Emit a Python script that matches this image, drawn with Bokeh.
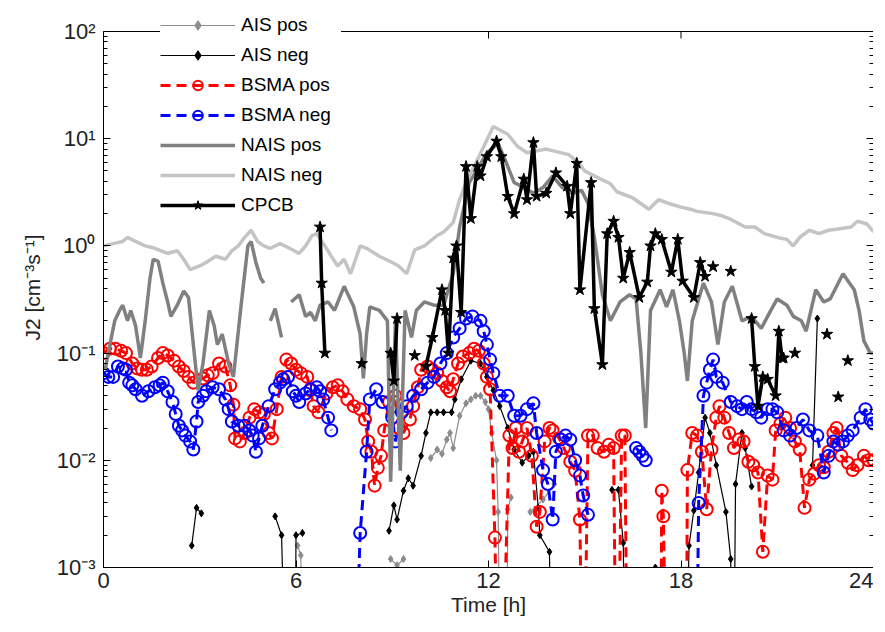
import math
import numpy as np
from bokeh.plotting import figure
from bokeh.models import (Range1d, LogAxis, FixedTicker, CustomJSTickFormatter, Span,
                          Legend, LegendItem, ColumnDataSource)
from bokeh.embed import file_html
from bokeh.resources import INLINE

nan = float("nan")
OFF = 1e-5  # values below the axis floor (drawn as lines leaving the frame)

# ---------------- data (time [h], J2 [cm^-3 s^-1]) ----------------
AIS_POS = [(6.05, 0.0016), (6.15, 0.0013), (6.25, OFF), (nan, nan),
           (8.95, 0.0012), (9.15, 0.00105), (9.35, 0.0012), (nan, nan),
           (10.2, 0.0105), (10.4, 0.0126), (10.55, 0.0115), (10.7, 0.0156), (10.8, 0.018),
           (10.9, 0.013), (11.1, 0.026), (11.3, 0.034), (11.45, 0.037), (11.6, 0.04),
           (11.75, 0.04), (11.9, 0.035), (12.0, 0.03), (12.1, 0.018), (12.25, 0.01),
           (12.3, 0.0033), (12.4, OFF), (12.55, OFF), (12.6, 0.0035), (12.7, 0.0045), (nan, nan),
           (13.3, 0.0033), (13.7, 0.0043), (14.05, 0.006)]

AIS_NEG = [(2.75, 0.0016), (2.9, 0.0036), (3.05, 0.0032), (nan, nan),
           (5.35, 0.003), (5.55, 0.002), (5.75, OFF), (5.95, OFF), (6.0, 0.002), (6.2, 0.0021), (nan, nan),
           (8.9, 0.0022), (9.05, 0.0038), (9.15, 0.0028), (9.35, 0.0052), (9.5, 0.0068),
           (9.65, 0.0058), (9.9, 0.011), (10.05, 0.018), (10.2, 0.028), (10.4, 0.028),
           (10.6, 0.028), (10.85, 0.028), (10.95, 0.037), (11.15, 0.057), (11.45, 0.085),
           (11.75, 0.08), (11.95, 0.06), (12.15, 0.045), (12.35, 0.032), (12.6, 0.02),
           (12.8, 0.0126), (13.05, 0.0095), (13.25, 0.011), (13.4, 0.012), (13.55, 0.0036),
           (13.6, 0.002), (13.9, 0.0014), (14.0, OFF), (nan, nan),
           (15.85, 0.0053), (16.05, 0.0053), (16.2, 0.0017), (16.3, OFF), (nan, nan),
           (17.2, 0.001), (nan, nan),
           (18.1, OFF), (18.25, 0.0016), (18.4, 0.0034), (18.55, 0.0077), (18.75, 0.025),
           (18.9, 0.018), (19.1, 0.009), (19.4, 0.0033), (19.55, 0.0012), (19.62, OFF),
           (19.7, 0.006), (19.9, 0.018), (20.0, 0.013), (20.2, 0.0057), (nan, nan),
           (22.1, 0.009), (22.25, 0.21)]

BSMA_POS = [(0.0, 0.1), (0.2, 0.11), (0.37, 0.11), (0.55, 0.105), (0.7, 0.1), (0.9, 0.08),
            (1.05, 0.072), (1.2, 0.07), (1.35, 0.07), (1.5, 0.075), (1.7, 0.09), (1.85, 0.1),
            (2.0, 0.095), (2.2, 0.085), (2.35, 0.075), (2.5, 0.068), (2.65, 0.06), (2.8, 0.053),
            (3.1, 0.058), (3.25, 0.062), (3.4, 0.065), (3.6, 0.08), (3.8, 0.075), (3.95, 0.05),
            (4.05, 0.033), (4.1, 0.016), (4.25, 0.015), (4.4, 0.018), (4.55, 0.025), (4.7, 0.03),
            (4.85, 0.028), (5.0, 0.027), (5.15, 0.018), (5.25, 0.016), (5.4, 0.03), (5.55, 0.06),
            (5.7, 0.087), (5.85, 0.08), (6.0, 0.07), (6.15, 0.065), (6.35, 0.06), (6.45, 0.045),
            (6.55, 0.032), (6.7, 0.028), (6.95, 0.042), (7.15, 0.048), (7.3, 0.05), (7.45, 0.044),
            (7.6, 0.037), (7.8, 0.032), (8.0, 0.03), (8.15, 0.024), (8.25, 0.015), (8.35, 0.012),
            (8.45, 0.0058), (8.55, 0.0085), (8.65, 0.011), (8.75, 0.019), (8.9, 0.035),
            (9.1, 0.04), (9.2, 0.02), (9.35, 0.018), (9.55, 0.024), (9.65, 0.032), (9.8, 0.048),
            (9.9, 0.07), (10.1, 0.075), (10.25, 0.07), (10.4, 0.065), (10.55, 0.055), (10.7, 0.048),
            (10.8, 0.044), (10.9, 0.057), (11.05, 0.08), (11.2, 0.093), (11.4, 0.1), (11.55, 0.11),
            (11.7, 0.105), (11.85, 0.08), (11.95, 0.06), (12.05, 0.046), (12.2, 0.0019),
            (12.35, OFF), (12.65, 0.017), (12.75, 0.013), (12.85, 0.02), (12.95, 0.012),
            (13.05, 0.015), (13.2, 0.02), (13.35, 0.011), (13.5, 0.0024), (13.6, 0.0033),
            (13.75, 0.015), (13.9, 0.02), (14.0, 0.019), (14.2, 0.016), (14.35, 0.013),
            (14.55, 0.0097), (14.7, 0.008), (14.85, 0.0028), (14.95, OFF), (15.1, 0.017),
            (15.25, 0.017), (15.4, 0.013), (15.6, 0.012), (15.75, 0.014), (15.9, 0.013),
            (16.0, OFF), (16.15, 0.017), (16.25, 0.017), (16.35, OFF), (17.35, OFF),
            (17.4, 0.0052), (17.45, 0.003), (17.6, OFF), (18.15, OFF), (18.2, 0.0081),
            (18.35, 0.018), (18.5, 0.017), (18.65, 0.012), (18.8, 0.0035), (18.95, 0.0126),
            (19.1, 0.025), (19.2, 0.032), (19.35, 0.025), (19.5, 0.018), (19.65, 0.013),
            (19.8, 0.0156), (19.95, 0.015), (20.1, 0.0097), (20.25, 0.009), (20.4, 0.0077),
            (20.55, 0.0014), (20.7, 0.0072), (20.85, 0.0066), (20.95, 0.019), (21.1, 0.022),
            (21.25, 0.025), (21.4, 0.02), (21.55, 0.015), (21.7, 0.0126), (21.85, 0.0036),
            (22.0, 0.0066), (22.15, 0.0075), (22.3, 0.009), (22.45, 0.0086), (22.6, 0.012),
            (22.75, 0.018), (22.85, 0.02), (23.0, 0.011), (23.2, 0.0095), (23.35, 0.0081),
            (23.5, 0.009), (23.7, 0.011), (23.85, 0.01), (24.0, 0.01)]

BSMA_NEG = [(0.0, 0.065), (0.15, 0.06), (0.3, 0.06), (0.45, 0.075), (0.6, 0.072), (0.7, 0.07),
            (0.8, 0.053), (0.9, 0.05), (1.0, 0.046), (1.2, 0.04), (1.4, 0.044), (1.6, 0.048),
            (1.75, 0.05), (1.85, 0.053), (2.0, 0.044), (2.15, 0.035), (2.25, 0.027), (2.35, 0.021),
            (2.45, 0.019), (2.55, 0.017), (2.7, 0.015), (2.8, 0.0126), (2.9, 0.023), (2.95, 0.035),
            (3.1, 0.04), (3.2, 0.044), (3.4, 0.048), (3.6, 0.046), (3.8, 0.037), (3.9, 0.03),
            (4.0, 0.023), (4.2, 0.021), (4.4, 0.021), (4.55, 0.019), (4.65, 0.017), (4.75, 0.012),
            (4.85, 0.016), (4.95, 0.021), (5.15, 0.032), (5.35, 0.046), (5.5, 0.053), (5.6, 0.057),
            (5.75, 0.06), (5.9, 0.044), (6.0, 0.04), (6.1, 0.035), (6.3, 0.042), (6.45, 0.046),
            (6.65, 0.048), (6.75, 0.044), (6.85, 0.037), (7.0, 0.025), (7.1, 0.019), (nan, nan),
            (7.75, OFF), (8.0, 0.0021), (8.2, 0.012), (8.3, 0.037), (8.5, 0.046), (8.7, 0.035),
            (9.0, 0.025), (9.1, 0.015), (9.3, 0.028), (9.45, 0.032), (9.65, 0.04), (9.9, 0.046),
            (10.1, 0.053), (10.3, 0.06), (10.5, 0.08), (10.7, 0.1), (10.9, 0.14), (11.1, 0.17),
            (11.3, 0.21), (11.5, 0.22), (11.75, 0.2), (11.85, 0.16), (11.95, 0.12), (12.05, 0.087),
            (12.15, 0.065), (12.35, 0.04), (12.6, 0.04), (12.8, 0.026), (13.0, 0.026), (13.2, 0.03),
            (13.4, 0.034), (13.5, 0.018), (13.7, 0.0081), (13.85, 0.006), (14.0, 0.0028),
            (14.1, 0.012), (14.25, 0.0156), (14.4, 0.017), (14.55, 0.0156), (14.7, 0.01),
            (14.85, 0.0072), (14.95, 0.0047), (15.1, 0.0031), (nan, nan),
            (16.6, 0.013), (16.7, 0.012), (16.8, 0.011), (16.9, 0.01), (nan, nan),
            (18.45, OFF), (18.55, 0.004), (18.7, 0.04), (18.8, 0.053), (18.9, 0.07), (19.0, 0.087),
            (19.1, 0.06), (19.3, 0.053), (19.55, 0.035), (19.75, 0.032), (19.9, 0.03), (20.05, 0.035),
            (20.2, 0.03), (20.35, 0.028), (20.5, 0.025), (20.7, 0.03), (20.85, 0.03), (21.0, 0.028),
            (21.2, 0.019), (21.4, 0.017), (21.6, 0.02), (21.8, 0.024), (22.0, 0.019), (22.25, 0.017),
            (22.45, 0.0077), (22.6, 0.011), (22.75, 0.015), (22.9, 0.014), (23.05, 0.015),
            (23.2, 0.017), (23.35, 0.019), (23.6, 0.025), (23.75, 0.03), (23.9, 0.024), (24.0, 0.022)]

NAIS_POS = [(0.05, 0.07), (0.2, 0.12), (0.35, 0.2), (0.5, 0.25), (0.6, 0.28), (0.75, 0.2),
            (0.85, 0.25), (1.0, 0.18), (1.15, 0.09), (1.3, 0.2), (1.45, 0.5), (1.55, 0.75),
            (1.7, 0.72), (1.85, 0.45), (2.0, 0.3), (2.1, 0.22), (2.3, 0.28), (2.5, 0.38),
            (2.65, 0.33), (2.8, 0.12), (2.95, 0.045), (3.1, 0.08), (3.3, 0.25), (3.45, 0.18),
            (3.55, 0.12), (3.7, 0.15), (3.9, 0.08), (4.05, 0.06), (4.3, 0.3), (4.5, 1.0),
            (4.6, 1.1), (4.75, 0.7), (4.9, 0.5), (5.0, 0.45), (nan, nan),
            (5.2, 0.2), (5.35, 0.26), (5.55, 0.14), (nan, nan),
            (5.85, 0.3), (6.1, 0.35), (6.3, 0.22), (6.45, 0.24), (6.6, 0.2), (6.75, 0.28),
            (7.0, 0.3), (7.2, 0.25), (7.5, 0.42), (7.8, 0.27), (8.0, 0.15), (8.1, 0.058),
            (8.2, 0.15), (8.3, 0.27), (8.6, 0.25), (8.85, 0.2), (8.95, 0.0063), (9.1, 0.2),
            (9.25, 0.008), (9.4, 0.25), (9.6, 0.14), (9.75, 0.25), (10.0, 0.3), (10.3, 0.28),
            (10.6, 0.28), (10.9, 0.55), (11.1, 1.5), (11.4, 3.9), (11.7, 5.5), (11.95, 7.4),
            (12.3, 9.0), (12.55, 6.0), (12.8, 3.9), (13.1, 3.5), (13.4, 3.1), (13.7, 3.5),
            (14.0, 4.5), (14.3, 3.5), (14.6, 3.1), (14.9, 3.3), (15.1, 2.5), (15.3, 1.2),
            (15.55, 0.35), (15.8, 0.2), (16.1, 0.3), (16.4, 0.35), (16.6, 0.32), (16.75, 0.1),
            (16.9, 0.02), (17.05, 0.25), (17.35, 0.39), (17.55, 0.27), (17.75, 0.39), (17.95, 0.2),
            (18.1, 0.1), (18.2, 0.055), (18.35, 0.2), (18.7, 0.45), (18.95, 0.3), (19.15, 0.12),
            (19.35, 0.3), (19.6, 0.42), (19.9, 0.2), (20.2, 0.22), (20.5, 0.17), (20.8, 0.25),
            (21.0, 0.32), (21.3, 0.28), (21.5, 0.22), (21.75, 0.2), (21.9, 0.16), (22.2, 0.39),
            (22.45, 0.3), (22.65, 0.32), (23.05, 0.55), (23.25, 0.45), (23.4, 0.39), (23.55, 0.25),
            (23.7, 0.13), (23.9, 0.1), (24.0, 0.1)]

NAIS_NEG = [(0.0, 1.0), (0.3, 1.05), (0.6, 1.1), (0.75, 1.2), (1.0, 1.1), (1.3, 1.0), (1.6, 0.95),
            (1.8, 0.9), (2.0, 0.85), (2.3, 0.9), (2.5, 0.75), (2.7, 0.6), (3.0, 0.65), (3.2, 0.7),
            (3.5, 0.8), (3.8, 0.75), (4.0, 0.9), (4.2, 1.0), (4.4, 1.2), (4.6, 1.4), (4.8, 1.1),
            (5.0, 1.0), (5.2, 0.95), (5.5, 1.05), (5.8, 0.95), (6.1, 0.85), (6.3, 1.0), (6.5, 1.25),
            (6.65, 1.3), (6.9, 1.0), (7.1, 0.8), (7.3, 0.65), (7.5, 0.75), (7.7, 0.55), (8.0, 1.0),
            (8.2, 0.95), (8.6, 0.8), (9.0, 0.7), (9.2, 0.65), (9.45, 0.55), (9.7, 0.92), (10.0, 1.0),
            (10.4, 1.25), (10.6, 1.35), (10.9, 1.65), (11.1, 2.7), (11.3, 3.9), (11.7, 6.8),
            (12.15, 13.0), (12.6, 11.0), (12.9, 8.5), (13.2, 7.4), (13.8, 8.0), (14.5, 7.1),
            (14.8, 6.0), (15.0, 5.0), (15.5, 4.2), (15.8, 3.8), (16.0, 3.2), (16.5, 2.8),
            (17.0, 2.2), (17.3, 2.7), (17.6, 2.5), (18.0, 2.3), (18.3, 2.2), (18.5, 2.1),
            (19.0, 2.0), (19.3, 1.9), (19.5, 1.8), (20.0, 1.5), (20.3, 1.5), (20.6, 1.3),
            (21.0, 1.2), (21.3, 1.15), (21.5, 1.0), (21.7, 1.2), (22.0, 1.4), (22.3, 1.3),
            (22.6, 1.4), (23.0, 1.45), (23.3, 1.5), (23.5, 1.7), (23.8, 1.6), (24.0, 1.35)]

CPCB = [(6.75, 1.5), (6.8, 0.45), (6.9, 0.1), (nan, nan), (8.05, 0.08), (nan, nan),
        (8.95, 0.1), (9.05, 0.055), (9.15, 0.21), (nan, nan), (9.7, 0.095), (nan, nan),
        (10.05, 0.075), (10.25, 0.14), (10.55, 0.39), (10.65, 0.25), (10.75, 0.1), (10.9, 0.77),
        (11.0, 1.0), (11.15, 0.24), (11.3, 5.5), (11.45, 1.8), (11.65, 5.5), (11.75, 4.5),
        (11.95, 6.8), (12.25, 9.5), (12.4, 6.8), (12.6, 2.9), (12.8, 2.0), (13.1, 4.2),
        (13.2, 2.7), (13.4, 9.2), (13.5, 2.9), (13.8, 3.1), (14.1, 4.8), (14.45, 3.6),
        (14.55, 2.0), (14.75, 5.9), (14.85, 0.39), (15.2, 3.9), (15.3, 0.26), (15.55, 0.078),
        (15.7, 1.3), (15.9, 1.7), (16.05, 1.2), (16.2, 0.5), (16.4, 0.87), (16.7, 0.33),
        (16.95, 0.46), (17.05, 1.0), (17.2, 1.3), (17.4, 1.15), (17.7, 0.57), (17.9, 1.15),
        (18.05, 0.47), (18.4, 0.33), (18.6, 0.7), (18.75, 0.52), (nan, nan),
        (19.0, 0.64), (nan, nan), (19.55, 0.58), (nan, nan),
        (20.2, 0.21), (20.3, 0.075), (20.4, 0.032), (20.55, 0.06), (20.7, 0.057), (20.95, 0.04),
        (21.05, 0.16), (21.15, 0.09), (21.2, 0.09), (nan, nan), (21.55, 0.1), (nan, nan),
        (22.55, 0.15), (nan, nan), (22.9, 0.039), (nan, nan), (23.2, 0.085)]

X_TICKS = [0, 6, 12, 18, 24]
Y_TICKS = [1e-3, 1e-2, 1e-1, 1e0, 1e1, 1e2]
Y_MINOR = [m * 10.0 ** k for k in range(-3, 2) for m in range(2, 10)]
Y_MIN, Y_MAX = 1e-3, 1e2
LABELS = ["AIS pos", "AIS neg", "BSMA pos", "BSMA neg", "NAIS pos", "NAIS neg", "CPCB"]


def source(pairs):
    return ColumnDataSource(dict(t=np.array([a for a, b in pairs], dtype=float),
                                 v=np.array([b for a, b in pairs], dtype=float)))


FONT = "Liberation Sans"
PX_PER_DECADE = 107.2
HEADROOM = 24                     # px of free space above the 10^2 line (legend sits there)
FH = int(round(PX_PER_DECADE * 5 + HEADROOM))
TOP = Y_MAX * 10 ** (HEADROOM / PX_PER_DECADE)

p = figure(frame_width=770, frame_height=FH, x_range=Range1d(0, 24), y_range=Range1d(Y_MIN, TOP),
           y_axis_type="log", output_backend="svg", toolbar_location=None,
           min_border_left=103, min_border_right=0, min_border_top=7, min_border_bottom=0,
           background_fill_color="white", border_fill_color="white")
p.xgrid.visible = False
p.ygrid.visible = False
p.outline_line_color = None

sup_code = """
const e = Math.round(Math.log10(tick));
const m = {'-':'\u207b','0':'\u2070','1':'\u00b9','2':'\u00b2','3':'\u00b3'};
return '10' + String(e).split('').map(c => m[c]).join('');
"""

xa = p.xaxis[0]
xa.ticker = FixedTicker(ticks=X_TICKS)
ya = p.yaxis[0]
ya.ticker = FixedTicker(ticks=Y_TICKS, minor_ticks=Y_MINOR)
ya.formatter = CustomJSTickFormatter(code=sup_code)
ya.bounds = (Y_MIN, Y_MAX)
xa.axis_label = "Time [h]"
ya.axis_label = "J2 [cm\u207b\u00b3s\u207b\u00b9]"
for ax in (xa, ya):
    ax.major_tick_in = 7
    ax.major_tick_out = 0
    ax.minor_tick_in = 4
    ax.minor_tick_out = 0
    ax.axis_line_color = "black"
    ax.major_tick_line_color = "black"
    ax.minor_tick_line_color = "black"
    ax.major_label_text_font = FONT
    ax.major_label_text_font_size = "22px"
    ax.major_label_text_color = "#222222"
    ax.axis_label_text_font = FONT
    ax.axis_label_text_font_size = "21px"
    ax.axis_label_text_font_style = "normal"
    ax.axis_label_text_color = "#222222"
xa.major_label_standoff = 5
xa.axis_label_standoff = 2
ya.major_label_standoff = 8
ya.axis_label_standoff = 10

right = LogAxis(ticker=FixedTicker(ticks=Y_TICKS, minor_ticks=Y_MINOR),
                formatter=CustomJSTickFormatter(code="return ''"), bounds=(Y_MIN, Y_MAX),
                major_tick_in=7, major_tick_out=0, minor_tick_in=4, minor_tick_out=0,
                major_label_standoff=0, axis_line_color="black", major_label_text_font_size="0px")
p.add_layout(right, "right")

# top edge of the box at 10^2, with inward ticks at the x tick positions
p.add_layout(Span(location=Y_MAX, dimension="width", line_color="black", line_width=1))
p.ray(x=X_TICKS, y=[Y_MAX] * len(X_TICKS), length=7, length_units="screen",
      angle=-math.pi / 2, line_color="black", line_width=1)

# ---------------- series ----------------
s = source(AIS_POS)
r_ap_l = p.line("t", "v", source=s, line_color="#8c8c8c", line_width=1.2)
r_ap_m = p.scatter("t", "v", source=s, marker="diamond", size=7, fill_color="#8c8c8c",
                   line_color="#8c8c8c")

s = source(AIS_NEG)
r_an_l = p.line("t", "v", source=s, line_color="black", line_width=1.2)
r_an_m = p.scatter("t", "v", source=s, marker="diamond", size=7, fill_color="black",
                   line_color="black")

s = source(BSMA_POS)
r_bp_l = p.line("t", "v", source=s, line_color="#ff0000", line_width=3, line_dash="10 6")
r_bp_m = p.scatter("t", "v", source=s, marker="circle", size=12, fill_alpha=0,
                   line_color="#ff0000", line_width=2)

s = source(BSMA_NEG)
r_bn_l = p.line("t", "v", source=s, line_color="#0000ff", line_width=3, line_dash="10 6")
r_bn_m = p.scatter("t", "v", source=s, marker="circle", size=12, fill_alpha=0,
                   line_color="#0000ff", line_width=2)

s = source(NAIS_POS)
r_np_l = p.line("t", "v", source=s, line_color="#808080", line_width=3.5)

s = source(NAIS_NEG)
r_nn_l = p.line("t", "v", source=s, line_color="#c4c4c4", line_width=3.5)

s = source(CPCB)
r_c_l = p.line("t", "v", source=s, line_color="black", line_width=3.5)
r_c_m = p.scatter("t", "v", source=s, marker="star", size=12, fill_color="black",
                  line_color="black")

items = [LegendItem(label=LABELS[0], renderers=[r_ap_l, r_ap_m]),
         LegendItem(label=LABELS[1], renderers=[r_an_l, r_an_m]),
         LegendItem(label=LABELS[2], renderers=[r_bp_l, r_bp_m]),
         LegendItem(label=LABELS[3], renderers=[r_bn_l, r_bn_m]),
         LegendItem(label=LABELS[4], renderers=[r_np_l]),
         LegendItem(label=LABELS[5], renderers=[r_nn_l]),
         LegendItem(label=LABELS[6], renderers=[r_c_l, r_c_m])]
LEG_H = 2 * 3 + 7 * 24 + 6 * 6
legend = Legend(items=items, location=(57, FH - LEG_H), padding=3, spacing=6,
                glyph_width=75, glyph_height=24, label_height=24, label_width=100,
                label_standoff=6, label_text_font=FONT, label_text_font_size="19px",
                label_text_color="black", background_fill_color="white",
                background_fill_alpha=1.0, border_line_color=None)
p.add_layout(legend)

open("out.html", "w").write(file_html(p, INLINE))
